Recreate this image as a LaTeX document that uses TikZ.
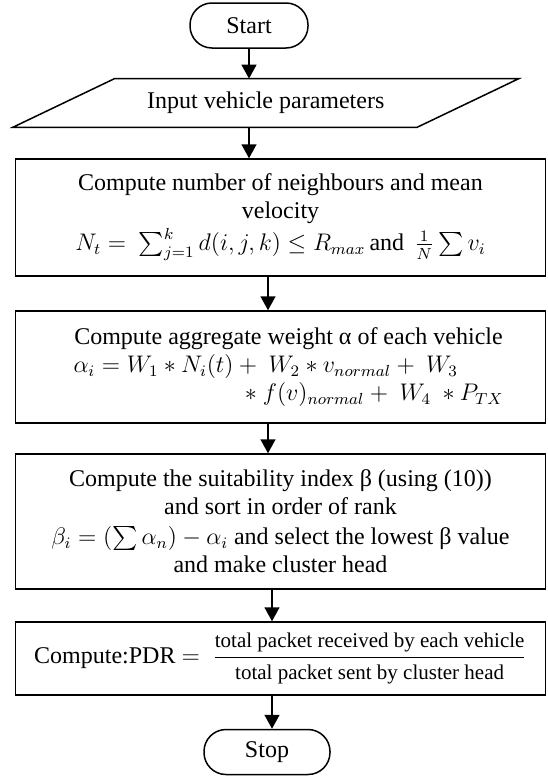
\documentclass[tikz,border=0pt]{standalone}
\usepackage{amsmath}
\usepackage{fontspec}
\setmainfont{Liberation Serif}
\usetikzlibrary{arrows.meta,calc}
\begin{document}
\begin{tikzpicture}[x=0.5pt,y=-0.5pt,
  base/.style={draw, line width=0.75pt, font=\fontsize{12}{14}\selectfont, inner sep=1pt, align=center},
  term/.style={base, rounded corners=11pt, minimum height=22.5pt},
  proc/.style={base, minimum width=265pt},
  arr/.style={line width=0.75pt, -{Triangle[width=7.5pt,length=7pt]}}]
\useasboundingbox (0,0) rectangle (547,776);
\node[term, minimum width=59pt] (start) at (249,25.5) {Start};
\node[font=\fontsize{12}{14}\selectfont, minimum width=201.75pt, minimum height=24pt, inner sep=0pt] (inp) at (265.75,103) {Input vehicle parameters};
\draw[line width=0.75pt, line join=miter]
  ($(inp.north west)+(51,0)$) -- ($(inp.north east)+(51,0)$) --
  ($(inp.south east)+(-51,0)$) -- ($(inp.south west)+(-51,0)$) -- cycle;
\node[proc, minimum height=58.5pt] (box1) at (280.5,217.5)
  {Compute number of neighbours and mean\\ velocity\\[2pt]
   $N_t =\ \sum_{j=1}^{k} d(i,j,k) \le R_{max}\,$and\ $\,\frac{1}{N}\sum v_i$};
\node[proc, minimum height=56pt] (box2) at (280.5,367)
  {\hspace*{8pt}\makebox[215pt][c]{Compute aggregate weight α of each vehicle}\\
   \hspace*{8pt}\makebox[215pt][l]{$\alpha_i = W_1 * N_i(t) +\ W_2 * v_{normal} +\ W_3$}\\
   \hspace*{8pt}\makebox[215pt][r]{$*\ f(v)_{normal} +\ W_4\ * P_{TX}$}};
\node[proc, minimum height=67.5pt] (box3) at (280.5,521.5)
  {Compute the suitability index β (using (10))\\ and sort in order of rank\\[1pt]
   $\beta_i = (\sum \alpha_n) - \alpha_i$ and select the lowest β value\\
   and make cluster head};
\node[proc, minimum height=36.5pt] (box4) at (280.5,658.5)
  {Compute:PDR $=\ \dfrac{\text{\fontsize{10.5}{12}\selectfont total packet received by each vehicle}}{\text{\fontsize{10.5}{12}\selectfont total packet sent by cluster head}}$};
\node[term, minimum width=63pt] (stop) at (267,752) {Stop};
\coordinate (ax1) at (268,0);
\coordinate (ax2) at (272,0);
\draw[arr] (start.south) -- (start.south |- inp.north);
\draw[arr] (inp.south -| start) -- (box1.north -| start);
\draw[arr] (box1.south -| ax1) -- (box2.north -| ax1);
\draw[arr] (box2.south -| ax1) -- (box3.north -| ax1);
\draw[arr] (box3.south -| ax2) -- (box4.north -| ax2);
\draw[arr] (box4.south -| ax2) -- (stop.north -| ax2);
\end{tikzpicture}
\end{document}
